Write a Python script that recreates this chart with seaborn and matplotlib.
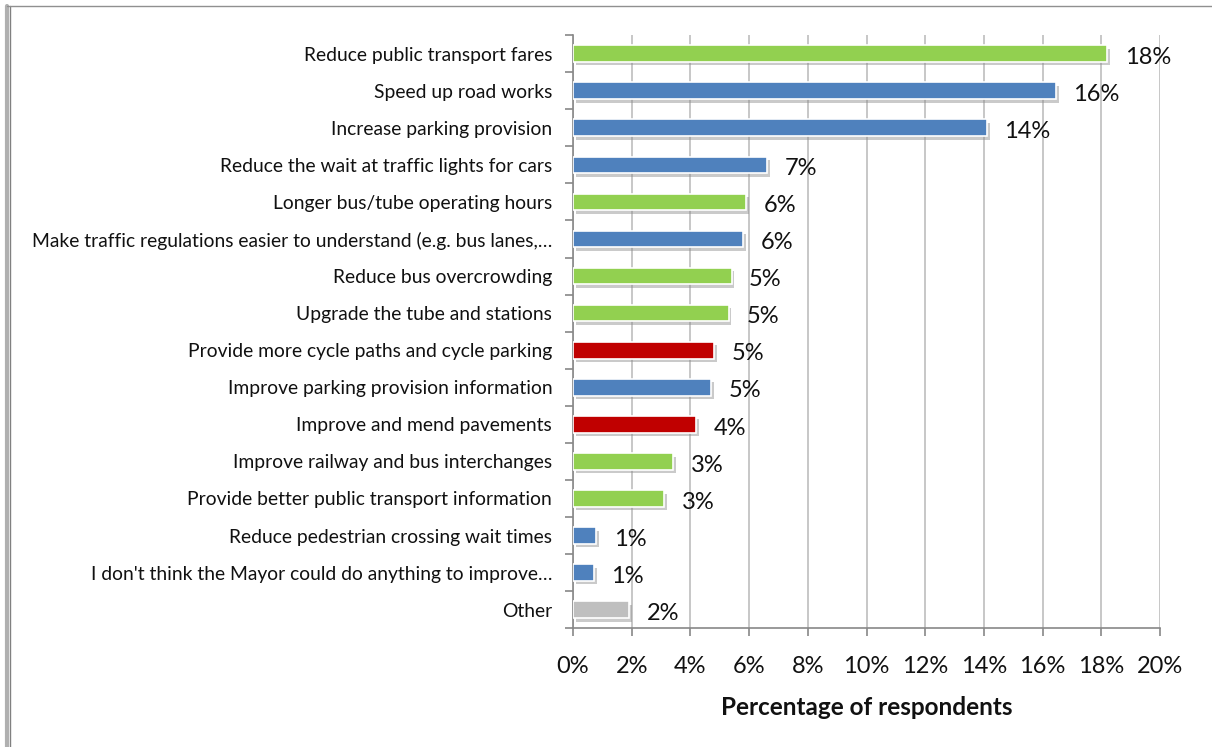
import matplotlib
matplotlib.use("Agg")
import matplotlib.pyplot as plt
import matplotlib.patheffects as pe
from matplotlib.lines import Line2D
import numpy as np
import pandas as pd
import seaborn as sns

categories = [
    "Reduce public transport fares",
    "Speed up road works",
    "Increase parking provision",
    "Reduce the wait at traffic lights for cars",
    "Longer bus/tube operating hours",
    "Make traffic regulations easier to understand (e.g. bus lanes,\u2026",
    "Reduce bus overcrowding",
    "Upgrade the tube and stations",
    "Provide more cycle paths and cycle parking",
    "Improve parking provision information",
    "Improve and mend pavements",
    "Improve railway and bus interchanges",
    "Provide better public transport information",
    "Reduce pedestrian crossing wait times",
    "I don't think the Mayor could do anything to improve\u2026",
    "Other",
]
values = [18.2, 16.45, 14.1, 6.6, 5.9, 5.8, 5.4, 5.3, 4.8, 4.7, 4.2, 3.4, 3.1, 0.78, 0.71, 1.92]
groups = ["public", "road", "road", "road", "public", "road", "public", "public",
          "active", "road", "active", "public", "public", "road", "road", "other"]
group_colors = {"public": "#92D050", "road": "#4F81BD", "active": "#C00000", "other": "#BFBFBF"}
x_ticks = [0, 2, 4, 6, 8, 10, 12, 14, 16, 18, 20]

sns.set_theme(style="white")
plt.rcParams["font.family"] = ["Lato", "DejaVu Sans"]

df = pd.DataFrame({"category": categories, "value": values, "group": groups})

fig = plt.figure(figsize=(12.12, 7.47), dpi=100)
ax = fig.add_axes([0.4728, 0.159, 0.4843, 0.794])

sns.barplot(data=df, x="value", y="category", hue="category",
            palette=[group_colors[g] for g in groups], legend=False, saturation=1,
            width=0.45, edgecolor="white", linewidth=1.2, ax=ax, zorder=3)

for bar in ax.patches:
    bar.set_path_effects([pe.SimplePatchShadow(offset=(2, -2.5), shadow_rgbFace="#8a8a8a", alpha=0.45),
                          pe.Normal()])

for i, v in enumerate(values):
    ax.text(v + 0.6, i + 0.1, f"{v:.0f}%", va="center", ha="left", fontsize=17, color="#111111")

ax.set_xlim(0, 20)
ax.set_ylim(len(categories) - 0.5, -0.5)
ax.set_xticks(x_ticks)
ax.set_xticklabels([f"{t}%" for t in x_ticks], fontsize=17, color="#111111")
ax.xaxis.grid(True, color="#bdbdbd", linewidth=1.2, zorder=0)
ax.set_axisbelow(True)

ax.set_yticks(range(len(categories)))
ax.set_yticklabels(categories, fontsize=13.9, color="#111111")
ax.set_yticks(np.arange(-0.5, len(categories), 1.0), minor=True)
ax.tick_params(axis="y", which="major", length=0, pad=15)
ax.tick_params(axis="y", which="minor", length=6, width=1.2, color="#888888", direction="out", left=True)
ax.tick_params(axis="x", which="major", length=6, width=1.2, color="#888888", direction="out", bottom=True, pad=14)

ax.set_xlabel("Percentage of respondents", fontsize=17.5, fontweight="bold", labelpad=14, color="#111111")
ax.set_ylabel("")

for side in ["top", "right"]:
    ax.spines[side].set_visible(False)
for side in ["left", "bottom"]:
    ax.spines[side].set_color("#888888")
    ax.spines[side].set_linewidth(1.2)

# page-style border on the left and top
fig.add_artist(Line2D([0.0058, 0.0058], [0, 0.992], transform=fig.transFigure, color="#b0b0b0", linewidth=3))
fig.add_artist(Line2D([0.0082, 0.0082], [0, 0.992], transform=fig.transFigure, color="#808080", linewidth=1))
fig.add_artist(Line2D([0.0058, 1.0], [0.992, 0.992], transform=fig.transFigure, color="#909090", linewidth=1))

fig.savefig("out.png", dpi=100)
